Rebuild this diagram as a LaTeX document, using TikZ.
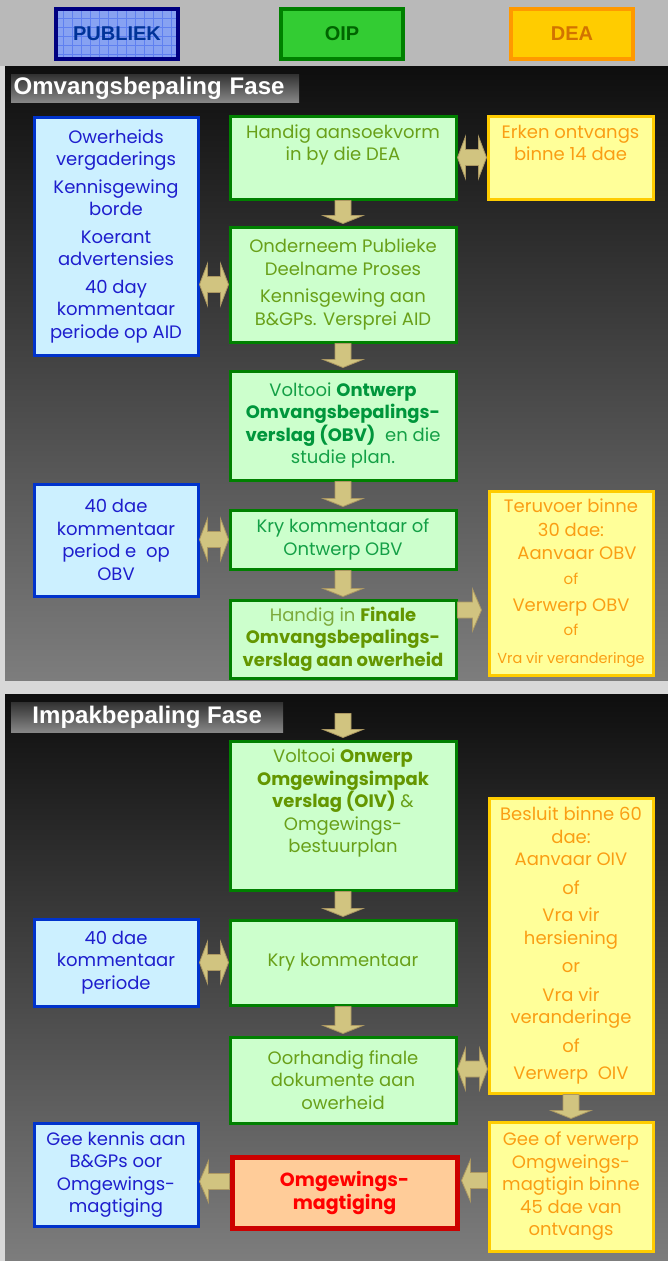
\documentclass[tikz,border=0pt]{standalone}
\usepackage{fontspec}
\setmainfont{Poppins}
\newfontfamily\arialf{Liberation Sans}
\usetikzlibrary{calc}

\definecolor{bgray}{RGB}{216,216,216}
\definecolor{hgray}{RGB}{185,185,185}
\definecolor{paneltop}{RGB}{14,14,14}
\definecolor{panelbot}{RGB}{125,125,125}
\definecolor{fasetop}{RGB}{50,50,50}
\definecolor{fasebot}{RGB}{135,135,135}
\definecolor{pubhdr}{RGB}{135,162,242}
\definecolor{pubgrid}{RGB}{95,128,240}
\definecolor{pubhdrline}{RGB}{0,0,128}
\definecolor{pubhdrtxt}{RGB}{0,51,153}
\definecolor{oiphdr}{RGB}{51,204,51}
\definecolor{oiphdrtxt}{RGB}{0,100,0}
\definecolor{deahdr}{RGB}{255,204,0}
\definecolor{deahdrline}{RGB}{255,153,0}
\definecolor{deahdrtxt}{RGB}{210,115,0}
\definecolor{publine}{RGB}{0,51,204}
\definecolor{pubbg}{RGB}{204,240,255}
\definecolor{pubtxt}{RGB}{30,30,205}
\definecolor{oipline}{RGB}{0,128,0}
\definecolor{oipbg}{RGB}{204,255,204}
\definecolor{olive}{RGB}{105,160,25}
\definecolor{olivedk}{RGB}{100,150,0}
\definecolor{olivelt}{RGB}{125,170,60}
\definecolor{teal}{RGB}{20,160,70}
\definecolor{tealdk}{RGB}{0,150,60}
\definecolor{dealine}{RGB}{255,204,0}
\definecolor{deabg}{RGB}{255,255,153}
\definecolor{deatxt}{RGB}{250,158,20}
\definecolor{redline}{RGB}{204,0,0}
\definecolor{redbg}{RGB}{255,204,153}
\definecolor{blkbg}{RGB}{209,196,128}
\definecolor{blkline}{RGB}{172,152,98}

\newcommand{\bodyf}{\fontsize{18}{22.5}\selectfont}
\newcommand{\smallof}{\fontsize{15}{22.5}\selectfont}

% blok pyle
\newcommand{\blkdown}[2]{%
  \path (#1) coordinate (ta) (#2) coordinate (tb);
  \draw[blk] ($(ta)+(-8,0)$) -- ($(tb)+(-8,-10)$) -- ($(tb)+(-20,-10)$) -- ($(tb)+(0,-2)$)
    -- ($(tb)+(20,-10)$) -- ($(tb)+(8,-10)$) -- ($(ta)+(8,0)$) -- cycle;}
\newcommand{\blkboth}[2]{%
  \path (#1) coordinate (ta) (#2) coordinate (tb);
  \draw[blk] (ta) -- ($(ta)+(8,-21)$) -- ($(ta)+(8,-8)$) -- ($(tb)+(-8,-8)$) -- ($(tb)+(-8,-21)$)
    -- (tb) -- ($(tb)+(-8,21)$) -- ($(tb)+(-8,8)$) -- ($(ta)+(8,8)$) -- ($(ta)+(8,21)$) -- cycle;}
\newcommand{\blkside}[3]{%
  \path (#1) coordinate (ta) (#2) coordinate (tb);
  \draw[blk] ($(ta)+(0,-8)$) -- ($(tb)+(#3,-8)$) -- ($(tb)+(#3,-21)$) -- (tb)
    -- ($(tb)+(#3,21)$) -- ($(tb)+(#3,8)$) -- ($(ta)+(0,8)$) -- cycle;}

\begin{document}
\begin{tikzpicture}[x=1pt,y=-1pt,
    pbox/.style={draw=publine, fill=pubbg, text=pubtxt, line width=3pt, anchor=north west,
      inner sep=0pt, align=center, font=\bodyf},
    obox/.style={pbox, draw=oipline, fill=oipbg, text=olive},
    dbox/.style={pbox, draw=dealine, fill=deabg, text=deatxt},
    hdr/.style={line width=4pt, anchor=north west, minimum width=122, minimum height=50,
      font=\arialf\bfseries\fontsize{20}{20}\selectfont},
    fase/.style={anchor=north west, inner sep=0pt, text=white, top color=fasetop,
      bottom color=fasebot, font=\arialf\bfseries\fontsize{24}{24}\selectfont},
    blk/.style={fill=blkbg, draw=blkline, line width=0.8pt}]
  \useasboundingbox (0,0) rectangle (668,1261);
  %Agtergrond
  \fill[bgray] (0,0) rectangle (668,1261);
  \fill[hgray] (0,0) rectangle (668,66);
  \shade[top color=paneltop, bottom color=panelbot] (5,66) rectangle (668,680);
  \shade[top color=paneltop, bottom color=panelbot] (5,694) rectangle (668,1261);

  %Legende
  \fill[pubhdr] (54,7) rectangle (176,57);
  \draw[pubgrid, step=9pt] (54,57) grid (176,7);
  \node[hdr, draw=pubhdrline, text=pubhdrtxt] (pub) at (54,7) {PUBLIEK};
  \node[hdr, draw=oipline, fill=oiphdr, text=oiphdrtxt] (oip) at (279,7) {OIP};
  \node[hdr, draw=deahdrline, fill=deahdr, text=deahdrtxt] (dea) at (509,7) {DEA};

  %Omvangsbepaling
  \node[fase, minimum height=28, text width=283, inner xsep=2.5pt, align=left] (fase1) at (11,74) {Omvangsbepaling Fase};
  \node[pbox, minimum width=164, minimum height=238] (b1) at (32.5,115.5)
    {Owerheids\\vergaderings\\[5pt]Kennisgewing\\borde\\[5pt]Koerant\\advertensies\\[5pt]40 day\\kommentaar\\periode op AID};
  \node[obox, minimum width=226, minimum height=83] (g1) at (228.5,114.5)
    {Handig aansoekvorm\\in by die DEA\\\strut};
  \node[dbox, minimum width=165, minimum height=83] (y1) at (486.5,114.5)
    {Erken ontvangs\\binne 14 dae\\\strut};
  \node[obox, minimum width=226, minimum height=115] (g2) at (228.5,225.5)
    {Onderneem Publieke\\Deelname Proses\\[5pt]Kennisgewing aan\\B\&GPs. Versprei AID};
  \node[obox, minimum width=226, minimum height=109, text=teal] (g3) at (228.5,369.5)
    {Voltooi \textcolor{tealdk}{\bfseries Ontwerp}\\\textcolor{tealdk}{\bfseries Omvangsbepalings-}\\\textcolor{tealdk}{\bfseries verslag (OBV)}\ \ en die\\studie plan.};
  \node[pbox, minimum width=164, minimum height=112] (b2) at (32.5,482.5)
    {40 dae\\kommentaar\\period e\ \ op\\OBV};
  \node[obox, minimum width=226, minimum height=59, text=teal] (g4) at (228.5,508.5)
    {Kry kommentaar of\\Ontwerp OBV};
  \node[dbox, minimum width=164, minimum height=184] (y2) at (487.5,489.5)
    {Teruvoer binne\\[2pt]30 dae:\\\hspace{12pt}Aanvaar OBV\\[3pt]{\smallof of}\\[4pt]Verwerp OBV\\[2pt]{\smallof of}\\[5pt]{\fontsize{14.5}{22.5}\selectfont Vra vir veranderinge}};
  \node[obox, minimum width=226, minimum height=78, text=olivelt] (g5) at (228.5,598.5)
    {Handig in \textcolor{olivedk}{\bfseries Finale}\\\textcolor{olivedk}{\bfseries Omvangsbepalings-}\\\textcolor{olivedk}{\bfseries verslag aan owerheid}};

  %Pyle fase 1
  \blkdown{g1.south}{g2.north}
  \blkdown{g2.south}{g3.north}
  \blkdown{g3.south}{g4.north}
  \blkdown{g4.south}{g5.north}
  \blkboth{g1.east}{y1.west}
  \blkboth{b1.east |- g2.west}{g2.west}
  \blkboth{b2.east |- g4.west}{g4.west}
  \coordinate (a5s) at ($(g5.east)+(0,-29)$);
  \coordinate (a5e) at ($(a5s -| y2.west)+(-6,0)$);
  \blkside{a5s}{a5e}{-9}

  %Impakbepaling
  \node[fase, minimum height=30, minimum width=272] (fase2) at (11,702) {Impakbepaling Fase};
  \node[obox, minimum width=226, minimum height=149] (g6) at (228.5,739.5)
    {Voltooi \textcolor{olivedk}{\bfseries Onwerp}\\\textcolor{olivedk}{\bfseries Omgewingsimpak}\\\textcolor{olivedk}{\bfseries verslag (OIV)} \&\\Omgewings-\\bestuurplan\\\strut};
  \node[dbox, minimum width=164, minimum height=295] (y3) at (487.5,796.5)
    {Besluit binne 60\\dae:\\Aanvaar OIV\\[6pt]of\\[5pt]Vra vir\\hersiening\\[6pt]or\\[6pt]Vra vir\\veranderinge\\[6pt]of\\[5pt]Verwerp\ \ OIV};
  \node[pbox, minimum width=164, minimum height=87] (b3) at (32.5,917.5)
    {40 dae\\kommentaar\\periode};
  \node[obox, minimum width=226, minimum height=85] (g7) at (228.5,918.5) {Kry kommentaar};
  \node[obox, minimum width=226, minimum height=86] (g8) at (228.5,1035.5)
    {Oorhandig finale\\dokumente aan\\owerheid};
  \node[pbox, minimum width=164, minimum height=103] (b4) at (32.5,1121.5)
    {Gee kennis aan\\B\&GPs oor\\Omgewings-\\magtiging};
  \node[pbox, draw=redline, fill=redbg, text=red, line width=5pt, minimum width=225, minimum height=71,
    font=\bfseries\fontsize{19}{23}\selectfont] (r1) at (229.5,1154.5) {Omgewings-\\magtiging};
  \node[dbox, minimum width=164, minimum height=129] (y4) at (487.5,1120.5)
    {Gee of verwerp\\Omgweings-\\magtigin binne\\45 dae van\\ontvangs};

  %Pyle fase 2
  \coordinate (st2) at ($(g6.north)+(0,-26)$);
  \blkdown{st2}{g6.north}
  \blkdown{g6.south}{g7.north}
  \blkdown{g7.south}{g8.north}
  \blkdown{y3.south}{y4.north}
  \blkboth{b3.east |- g7.west}{g7.west}
  \coordinate (a6l) at ($(g8.east)+(0,-11)$);
  \coordinate (a6r) at (a6l -| y3.west);
  \blkboth{a6l}{a6r}
  \coordinate (a7s) at ($(y4.west)+(0,-6)$);
  \coordinate (a7e) at ($(a7s -| r1.east)+(2,0)$);
  \blkside{a7s}{a7e}{9}
  \coordinate (a8s) at ($(r1.west)+(0,-11)$);
  \coordinate (a8e) at (a8s -| b4.east);
  \blkside{a8s}{a8e}{9}
\end{tikzpicture}
\end{document}
